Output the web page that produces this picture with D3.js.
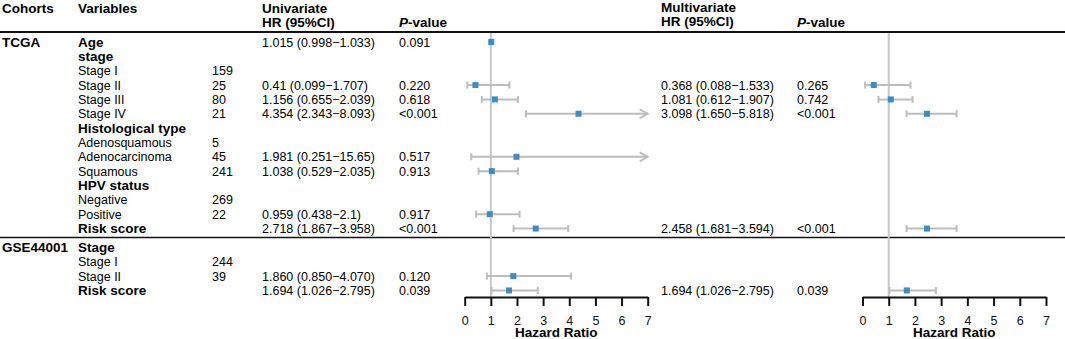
<!DOCTYPE html>
<html>
<head>
<meta charset="utf-8">
<script src="https://cdn.jsdelivr.net/npm/d3@7"></script>
<style>
  html, body { margin: 0; padding: 0; background: #fff; }
  svg { display: block; font-family: "Liberation Sans", Arial, sans-serif; }
  .reg { font-size: 12.5px; }
  .bold { font-size: 13.5px; font-weight: bold; }
</style>
</head>
<body>
<svg id="forest" width="1065" height="339"></svg>
<script>
  "use strict";

  // table rows, top to bottom
  const cohorts = [{ name: "TCGA", row: 0 }, { name: "GSE44001", row: 14 }];
  const variables = ["Age", "stage", "Stage I", "Stage II", "Stage III", "Stage IV",
    "Histological type", "Adenosquamous", "Adenocarcinoma", "Squamous",
    "HPV status", "Negative", "Positive", "Risk score",
    "Stage", "Stage I", "Stage II", "Risk score"];
  const isGroup = [1, 1, 0, 0, 0, 0, 1, 0, 0, 0, 1, 0, 0, 1, 1, 0, 0, 1];
  const counts = ["", "", "159", "25", "80", "21", "", "5", "45", "241", "", "269", "22", "", "", "244", "39", ""];

  const uniText = ["1.015 (0.998−1.033)", "", "", "0.41 (0.099−1.707)", "1.156 (0.655−2.039)", "4.354 (2.343−8.093)",
    "", "", "1.981 (0.251−15.65)", "1.038 (0.529−2.035)", "", "", "0.959 (0.438−2.1)", "2.718 (1.867−3.958)",
    "", "", "1.860 (0.850−4.070)", "1.694 (1.026−2.795)"];
  const uniP = ["0.091", "", "", "0.220", "0.618", "<0.001", "", "", "0.517", "0.913", "", "", "0.917", "<0.001",
    "", "", "0.120", "0.039"];
  const uniEst = [1.015, null, null, 0.41, 1.156, 4.354, null, null, 1.981, 1.038, null, null, 0.959, 2.718, null, null, 1.860, 1.694];
  const uniLo = [0.998, null, null, 0.099, 0.655, 2.343, null, null, 0.251, 0.529, null, null, 0.438, 1.867, null, null, 0.850, 1.026];
  const uniHi = [1.033, null, null, 1.707, 2.039, 8.093, null, null, 15.65, 2.035, null, null, 2.1, 3.958, null, null, 4.070, 2.795];

  const multiText = ["", "", "", "0.368 (0.088−1.533)", "1.081 (0.612−1.907)", "3.098 (1.650−5.818)",
    "", "", "", "", "", "", "", "2.458 (1.681−3.594)", "", "", "", "1.694 (1.026−2.795)"];
  const multiP = ["", "", "", "0.265", "0.742", "<0.001", "", "", "", "", "", "", "", "<0.001", "", "", "", "0.039"];
  // multivariate markers as drawn in the figure
  const multiEst = [null, null, null, 0.43, 1.08, 2.46, null, null, null, null, null, null, null, 2.46, null, null, null, 1.69];
  const multiLo = [null, null, null, 0.10, 0.61, 1.68, null, null, null, null, null, null, null, 1.68, null, null, null, 1.03];
  const multiHi = [null, null, null, 1.83, 1.91, 3.59, null, null, null, null, null, null, null, 3.59, null, null, null, 2.80];

  const tickValues = [0, 1, 2, 3, 4, 5, 6, 7];

  const svg = d3.select("#forest");
  const W = 1065;
  const rowY = (i) => 42 + 14.35 * i + (i >= 14 ? 4.5 : 0);
  const base = 4.5; // text baseline offset from row centre

  const xUni = d3.scaleLinear().domain([0, 7]).range([464.7, 647.7]);
  const xMulti = d3.scaleLinear().domain([0, 7]).range([862.5, 1046]);
  const axisY = 297;

  // header
  const head = svg.append("g");
  head.append("text").attr("class", "bold").attr("x", 2).attr("y", 13).text("Cohorts");
  head.append("text").attr("class", "bold").attr("x", 78).attr("y", 13).text("Variables");
  head.append("text").attr("class", "bold").attr("x", 262).attr("y", 13).text("Univariate");
  head.append("text").attr("class", "bold").attr("x", 262).attr("y", 27).text("HR (95%CI)");
  head.append("text").attr("class", "bold").attr("x", 661).attr("y", 12).text("Multivariate");
  head.append("text").attr("class", "bold").attr("x", 661).attr("y", 26).text("HR (95%CI)");
  [399, 797].forEach((x) => {
    const t = head.append("text").attr("class", "bold").attr("x", x).attr("y", 27);
    t.append("tspan").attr("font-style", "italic").text("P");
    t.append("tspan").text("-value");
  });

  svg.append("line").attr("x1", 0).attr("x2", W).attr("y1", 32).attr("y2", 32)
    .attr("stroke", "#111").attr("stroke-width", 2);
  svg.append("line").attr("x1", 0).attr("x2", W).attr("y1", 237.5).attr("y2", 237.5)
    .attr("stroke", "#111").attr("stroke-width", 1.5);

  // table body
  const body = svg.append("g");
  body.selectAll("text.cohort").data(cohorts).join("text")
    .attr("class", "cohort bold").attr("x", 2).attr("y", (d) => rowY(d.row) + base).text((d) => d.name);

  const idx = d3.range(variables.length);
  body.selectAll("text.var").data(idx).join("text")
    .attr("class", (i) => "var " + (isGroup[i] ? "bold" : "reg"))
    .attr("x", 78).attr("y", (i) => rowY(i) + base).text((i) => variables[i]);

  const cols = [[212, counts], [262, uniText], [399, uniP], [661, multiText], [797, multiP]];
  cols.forEach(([x, arr]) => {
    body.append("g").selectAll("text").data(idx.filter((i) => arr[i])).join("text")
      .attr("class", "reg").attr("x", x).attr("y", (i) => rowY(i) + base).text((i) => arr[i]);
  });

  // forest panels
  function panel(x, est, lo, hi) {
    const g = svg.append("g");
    g.append("line").attr("x1", x(1)).attr("x2", x(1)).attr("y1", 33).attr("y2", axisY)
      .attr("stroke", "#c8c8c8").attr("stroke-width", 2);

    const rows = idx.filter((i) => est[i] != null);
    const grey = "#bdbdbd";
    rows.forEach((i) => {
      const y = rowY(i);
      const l = Math.max(0, lo[i]);
      const over = hi[i] > 7;
      const h = Math.min(7, hi[i]);
      g.append("line").attr("x1", x(l)).attr("x2", x(h)).attr("y1", y).attr("y2", y)
        .attr("stroke", grey).attr("stroke-width", 2);
      g.append("line").attr("x1", x(l)).attr("x2", x(l)).attr("y1", y - 3.5).attr("y2", y + 3.5)
        .attr("stroke", grey).attr("stroke-width", 2);
      if (over) {
        g.append("path")
          .attr("d", `M${x(h) - 8},${y - 4.5}L${x(h)},${y}L${x(h) - 8},${y + 4.5}`)
          .attr("fill", "none").attr("stroke", grey).attr("stroke-width", 2);
      } else {
        g.append("line").attr("x1", x(h)).attr("x2", x(h)).attr("y1", y - 3.5).attr("y2", y + 3.5)
          .attr("stroke", grey).attr("stroke-width", 2);
      }
      g.append("rect").attr("x", x(est[i]) - 3).attr("y", y - 3).attr("width", 6).attr("height", 6)
        .attr("fill", "#3b8cc9");
    });

    const ax = g.append("g").attr("transform", `translate(0,${axisY})`)
      .call(d3.axisBottom(x).tickValues(tickValues).tickFormat(d3.format("d"))
        .tickSize(9).tickSizeOuter(0).tickPadding(10));
    ax.select(".domain").attr("stroke", "#111").attr("stroke-width", 2);
    ax.selectAll(".tick line").attr("stroke", "#111").attr("stroke-width", 2);
    ax.selectAll(".tick text").attr("font-size", 12.5).attr("fill", "#111")
      .attr("font-family", "Liberation Sans, Arial, sans-serif");

    g.append("text").attr("class", "bold").attr("text-anchor", "middle")
      .attr("x", x(3.5)).attr("y", 337).text("Hazard Ratio");
  }

  panel(xUni, uniEst, uniLo, uniHi);
  panel(xMulti, multiEst, multiLo, multiHi);
</script>
</body>
</html>
